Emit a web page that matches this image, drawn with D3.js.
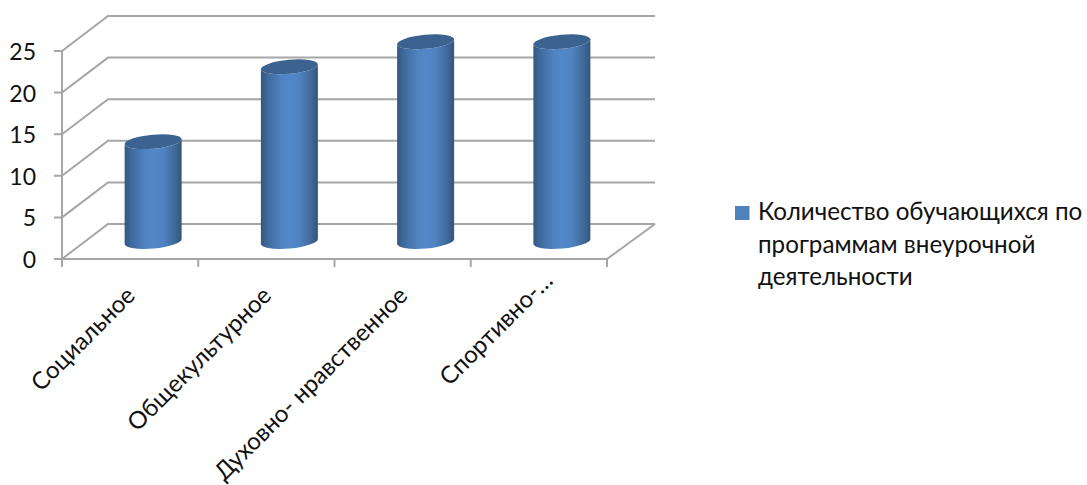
<!DOCTYPE html>
<html><head><meta charset="utf-8">
<script src="https://cdn.jsdelivr.net/npm/d3@7/dist/d3.min.js"></script>
<style>html,body{margin:0;padding:0;background:#fff}svg{display:block}text{font-family:Lato,"Open Sans",sans-serif;fill:#111}</style>
</head><body><svg id="c" width="1087" height="485"></svg>
<script>
const categories = ["Социальное","Общекультурное","Духовно- нравственное","Спортивно-…"];
const seriesValues = [12,21,24,24];
const yTicks = [0,5,10,15,20,25];
const seriesName = ["Количество обучающихся по","программам внеурочной","деятельности"];

const svg = d3.select("#c");
const depthX = 46, depthY = -35;
const x = d3.scaleBand().domain(categories).range([62,607]).padding(0);
const y = d3.scaleLinear().domain([0,25]).range([259,51]);
const grid = "#a6a6a6";

const defs = svg.append("defs");
const g = defs.append("linearGradient").attr("id","cyl").attr("x1",0).attr("x2",1).attr("y1",0).attr("y2",0);
[[0,"#34587f"],[0.12,"#3f6a9c"],[0.35,"#4f82c0"],[0.5,"#5287c9"],[0.68,"#4f82c0"],[0.88,"#40699b"],[1,"#335579"]]
 .forEach(([o,c])=>g.append("stop").attr("offset",o).attr("stop-color",c));
defs.append("filter").attr("id","soft").append("feGaussianBlur").attr("stdDeviation",0.35);

// walls
const wall = svg.append("g").attr("stroke",grid).attr("stroke-width",2).attr("fill","none").attr("filter","url(#soft)");
yTicks.forEach(t=>{
  wall.append("path").attr("d",d3.line()([[x.range()[0]-8,y(t)],[x.range()[0],y(t)],[x.range()[0]+depthX,y(t)+depthY],[x.range()[1]+depthX+2,y(t)+depthY]]));
});
wall.append("line").attr("x1",62).attr("x2",62).attr("y1",y(25)).attr("y2",y(0));
wall.append("path").attr("d",d3.line()([[x.range()[0],y(0)],[x.range()[1],y(0)],[x.range()[1]+depthX+2,y(0)+depthY]]));
[...categories.map(c=>x(c)),x.range()[1]].forEach(p=>{
  wall.append("line").attr("x1",p).attr("x2",p).attr("y1",y(0)).attr("y2",y(0)+8);
});

// cylinders
const rx = 28.5, ry = 7, tilt = -5.2, slope = rx*Math.sin(-tilt*Math.PI/180);
const bars = svg.selectAll("g.bar").data(categories).join("g").attr("class","bar");
bars.each(function(c,i){
  const cx = x(c)+x.bandwidth()/2+depthX/2;
  const yb = y(0)+depthY/2, yt = y(seriesValues[i])+depthY/2;
  const s = d3.select(this);
  s.append("path").attr("fill","url(#cyl)")
   .attr("d",`M${cx-rx},${yt+slope} L${cx-rx},${yb+slope} A${rx},${ry} ${tilt} 0 0 ${cx+rx},${yb-slope} L${cx+rx},${yt-slope} A${rx},${ry} ${tilt} 0 1 ${cx-rx},${yt+slope} Z`);
  s.append("path").attr("fill","#3c6390")
   .attr("d",`M${cx-rx},${yt+slope} A${rx},${ry} ${tilt} 0 1 ${cx+rx},${yt-slope} A${rx},${ry} ${tilt} 0 1 ${cx-rx},${yt+slope} Z`);
});

// labels
svg.selectAll("text.yl").data(yTicks).join("text").attr("class","yl")
 .attr("x",36).attr("y",d=>y(d)+9).attr("text-anchor","end").attr("font-size",23).text(d=>d);
svg.selectAll("text.xl").data(categories).join("text").attr("class","xl")
 .attr("text-anchor","end").attr("font-size",24)
 .attr("transform",(c,i)=>{
   const truncated = c.endsWith("…");
   const dx = truncated ? 9 : 0, dy = truncated ? -15 : 0;
   return `translate(${x(c)+x.bandwidth()/2+0.5+dx},${y(0)+32+dy}) rotate(-45)`;
 })
 .attr("dy","0.35em").text(c=>c);

// legend
svg.append("rect").attr("x",735).attr("y",206).attr("width",14.5).attr("height",14).attr("fill","#4f81bd");
svg.selectAll("text.lg").data(seriesName).join("text").attr("class","lg")
 .attr("x",758).attr("y",(d,i)=>220+i*32.5).attr("font-size",24.2).text(d=>d);
</script></body></html>
